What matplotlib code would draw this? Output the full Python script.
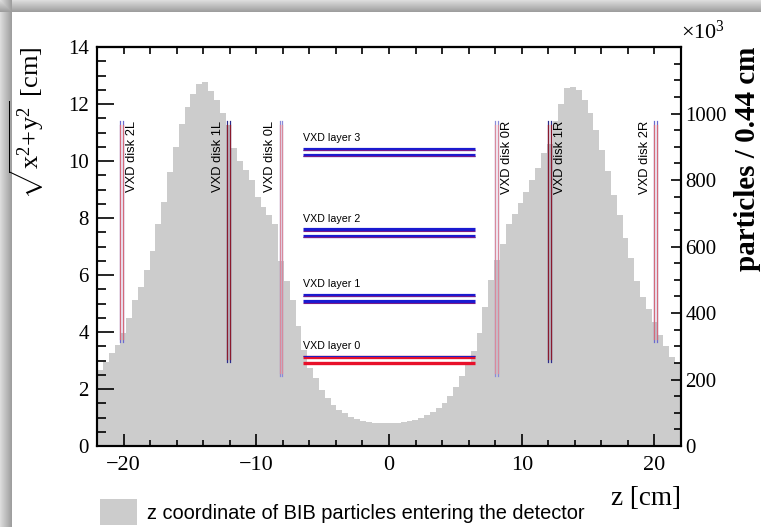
import numpy as np
import matplotlib
matplotlib.use("Agg")
import matplotlib.pyplot as plt
from matplotlib import font_manager
from matplotlib.ticker import MultipleLocator

# HISTOGRAMA: particulas por bin de 0.44 cm (x10^3), z de -22 a 22 cm
zMin = -22.0
zMax = 22.0
conteos = [229, 254, 279, 303, 339, 384, 439, 479, 530, 587,
           669, 733, 823, 900, 969, 1020, 1059, 1089, 1094, 1067,
           1041, 1003, 964, 896, 857, 831, 801, 750, 720, 694,
           669, 557, 497, 439, 360, 289, 236, 204, 168, 143,
           123, 108, 99, 88, 81, 76, 73, 70, 69, 68,
           68, 69, 71, 74, 79, 84, 92, 101, 113, 129,
           151, 177, 210, 244, 287, 341, 419, 499, 560, 609,
           669, 699, 730, 765, 800, 835, 880, 909, 977, 1029,
           1076, 1080, 1071, 1041, 1003, 951, 891, 827, 755, 694,
           625, 566, 497, 449, 411, 373, 334, 300, 268, 249]

# DISCOS DEL VXD (z en cm, radios en cm)
discoNombres = ["VXD disk 2L", "VXD disk 1L", "VXD disk 0L",
                "VXD disk 0R", "VXD disk 1R", "VXD disk 2R"]
discoNumero = [2, 1, 0, 0, 1, 2]
discoZ1 = [-20.25, -12.2, -8.25, 8.0, 12.0, 20.0]
discoZ2 = [-20.05, -12.0, -8.05, 8.2, 12.2, 20.2]
discoRmin = [3.65, 2.95, 2.45, 2.45, 2.95, 3.65]
discoRmax = [11.4, 11.4, 11.4, 11.4, 11.4, 11.4]

# CAPAS DEL VXD
capaNombres = ["VXD layer 0", "VXD layer 1", "VXD layer 2", "VXD layer 3"]
capaR1 = [3.12, 5.30, 7.60, 10.42]
capaR2 = [2.92, 5.08, 7.38, 10.21]
capaZ = [-6.5, 6.5]

leyenda = "z coordinate of BIB particles entering the detector"

# fuentes
nombresFuentes = {f.name for f in font_manager.fontManager.ttflist}
if "Liberation Sans Narrow" in nombresFuentes:
    fuenteAngosta = "Liberation Sans Narrow"
else:
    fuenteAngosta = "Liberation Sans"

plt.rcParams["font.family"] = ["Liberation Serif", "DejaVu Serif"]
plt.rcParams["mathtext.fontset"] = "custom"
plt.rcParams["mathtext.rm"] = "Liberation Serif"
plt.rcParams["mathtext.it"] = "Liberation Serif:italic"
plt.rcParams["axes.linewidth"] = 1.5

fig = plt.figure(figsize=(7.61, 5.27), dpi=100)
fig.patch.set_facecolor("white")

# SOMBRA DEL MARCO (izquierda y arriba)
alto, ancho = 527, 761
sombra = np.ones((alto, ancho))
for i in range(12):
    tono = 0.86 - 0.24 * i / 11.0
    sombra[:, i] = np.minimum(sombra[:, i], tono)
    sombra[i, :] = np.minimum(sombra[i, :], tono)
axFondo = fig.add_axes([0, 0, 1, 1], zorder=-10)
axFondo.imshow(sombra, cmap="gray", vmin=0, vmax=1, aspect="auto",
               interpolation="nearest", extent=[0, 1, 0, 1])
axFondo.axis("off")

axH = fig.add_axes([0.1275, 0.1537, 0.7674, 0.7571])
axG = axH.twinx()

# histograma en el eje de la derecha
bordes = np.linspace(zMin, zMax, len(conteos) + 1)
hist = axH.stairs(conteos, bordes, fill=True, color="#cccccc", lw=0,
                  label=leyenda)
axH.set_xlim(zMin, zMax)
axH.set_ylim(0, 1200)
axH.yaxis.tick_right()
axH.yaxis.set_label_position("right")
axH.set_yticks(np.arange(0, 1201, 200))
axH.set_yticklabels(["0", "200", "400", "600", "800", "1000", ""])
axH.yaxis.set_minor_locator(MultipleLocator(50))
axH.tick_params(axis="y", which="major", direction="in", length=7.5,
                width=1.2, labelsize=15, pad=3)
axH.tick_params(axis="y", which="minor", direction="in", length=5, width=1.2)
axH.xaxis.set_major_locator(MultipleLocator(10))
axH.xaxis.set_minor_locator(MultipleLocator(2))
axH.tick_params(axis="x", which="major", direction="in", length=9,
                width=1.2, labelsize=16, pad=7)
axH.tick_params(axis="x", which="minor", direction="in", length=4.5, width=1.2)
axH.set_ylabel("particles / 0.44 cm", fontsize=21, fontweight="bold", loc="top")
axH.yaxis.set_label_coords(1.09, 1.0)
axH.set_xlabel("z [cm]", fontsize=19.5, loc="right")
axH.xaxis.set_label_coords(1.0, -0.1)
axH.text(1.0, 1.008, r"$\times$10$^{3}$", transform=axH.transAxes,
         ha="left", va="bottom", fontsize=16)

# ticks de arriba
arriba = axH.secondary_xaxis("top")
arriba.xaxis.set_major_locator(MultipleLocator(10))
arriba.xaxis.set_minor_locator(MultipleLocator(2))
arriba.tick_params(which="both", direction="in", length=5, width=1.2,
                   labeltop=False)

# eje de la izquierda en cm
axG.yaxis.tick_left()
axG.yaxis.set_label_position("left")
axG.set_ylim(0, 14)
axG.yaxis.set_major_locator(MultipleLocator(2))
axG.yaxis.set_minor_locator(MultipleLocator(0.5))
axG.tick_params(axis="y", which="major", direction="in", length=12.5,
                width=1.2, labelsize=15, pad=6)
axG.tick_params(axis="y", which="minor", direction="in", length=6.5, width=1.2)
axG.set_ylabel(r"$\sqrt{\mathrm{x}^{2}\!+\!\mathrm{y}^{2}}$ [cm]", fontsize=19,
               loc="top")
axG.yaxis.set_label_coords(-0.085, 1.0)

# discos
rojos = {0: "#d98a9c", 1: "#8a1a2c", 2: "#d46a7a"}
azules = {0: "#8a8ad8", 1: "#2a2a8a", 2: "#6a6ad0"}
lados = [1, -1, -1, 1, 1, -1]
for k in range(len(discoNombres)):
    n = discoNumero[k]
    for z in [discoZ1[k], discoZ2[k]]:
        axG.plot([z, z], [discoRmin[k], discoRmax[k]], color=azules[n], lw=0.9)
        axG.plot([z, z], [discoRmin[k] + 0.12, discoRmax[k] - 0.15],
                 color=rojos[n], lw=0.9)
    zc = 0.5 * (discoZ1[k] + discoZ2[k]) + 0.8 * lados[k]
    axG.text(zc, discoRmax[k], discoNombres[k], rotation=90, ha="center",
             va="top", fontsize=9.3, family=["Liberation Sans", "DejaVu Sans"])

# capas
for k in range(len(capaNombres)):
    if k == 0:
        axG.plot(capaZ, [capaR1[k], capaR1[k]], color="#e8102a", lw=2.4,
                 solid_capstyle="butt")
        axG.plot(capaZ, [capaR1[k] + 0.05, capaR1[k] + 0.05], color="#2020c0",
                 lw=0.8, solid_capstyle="butt")
        axG.plot(capaZ, [capaR2[k], capaR2[k]], color="#e8102a", lw=2.4,
                 solid_capstyle="butt")
    else:
        for r in [capaR1[k], capaR2[k]]:
            axG.plot(capaZ, [r, r], color="#1a1ad0", lw=2.3,
                     solid_capstyle="butt")
            axG.plot(capaZ, [r - 0.045, r - 0.045], color="#7a1a8a", lw=0.8,
                     solid_capstyle="butt")
    axG.text(capaZ[0], capaR1[k] + 0.2, capaNombres[k], ha="left",
             va="bottom", fontsize=7.7, family=fuenteAngosta)

# leyenda abajo
fig.legend(handles=[hist], labels=[leyenda], loc="center left",
           bbox_to_anchor=(0.1314, 0.0285), frameon=False, borderpad=0,
           borderaxespad=0, handlelength=1.85, handleheight=1.6,
           handletextpad=0.5, prop={"family": fuenteAngosta, "size": 14.4})

fig.savefig("out.png", dpi=100)
